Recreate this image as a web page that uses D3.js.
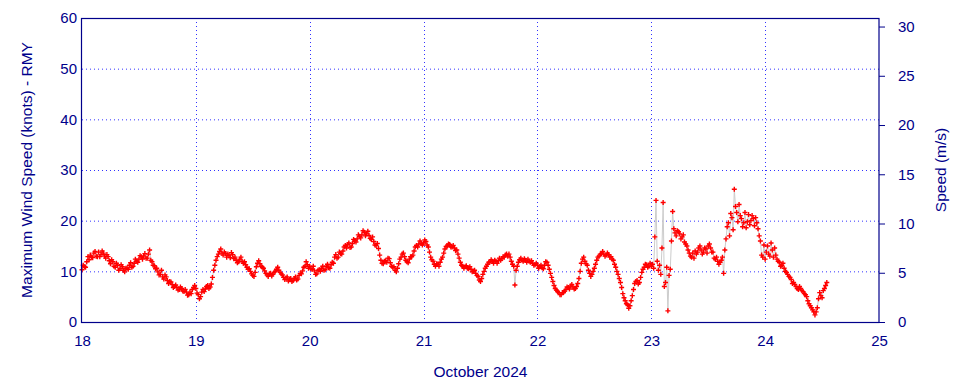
<!DOCTYPE html>
<html>
<head>
<meta charset="utf-8">
<script src="https://cdn.jsdelivr.net/npm/d3@7"></script>
<style>
  body { margin: 0; background: #fff; }
  text { font-family: "Liberation Sans", Arial, sans-serif; }
</style>
</head>
<body>
<script>
// max wind readings (knots): on the hour / half hour ...
const day18 = [10.3,10.9,11.9,12.3,12.8,13.6,13.0,13.8,13.3,13.6,12.6,12.9,11.5,11.9,10.8,11.2,10.5,10.9,9.9,10.6,11.2,10.8,11.6,12.0,
               12.4,12.9,13.0,12.6,13.4,12.2,11.2,10.5,9.9,9.4,8.9,9.3,8.2,8.0,7.4,7.0,6.8,6.4,6.6,6.0,5.9,5.4,5.6,6.8];
const day19 = [6.6,5.4,5.0,6.4,6.5,7.2,6.9,8.8,11.2,12.9,13.9,13.6,13.8,12.8,13.1,13.7,12.5,12.2,11.9,12.8,11.6,11.3,10.4,10.0,
               9.2,9.8,11.6,11.5,10.8,10.1,9.3,9.5,9.1,9.8,10.4,10.2,9.5,8.8,8.7,8.1,8.6,8.2,8.9,8.5,9.6,10.1,11.0,11.3];
const day20 = [11.0,10.4,10.1,9.5,10.3,10.6,10.2,11.0,10.7,11.3,11.6,13.3,12.8,13.5,14.0,15.1,15.3,14.7,15.5,16.1,16.4,16.9,17.2,17.7,
               17.4,17.1,16.3,15.9,15.1,14.5,12.2,11.5,12.1,12.6,11.7,10.8,10.2,10.6,12.4,13.4,12.9,11.9,12.4,12.9,14.0,15.1,15.4,15.5];
const day21 = [15.6,15.9,14.8,12.8,12.0,11.0,11.4,11.8,12.8,14.4,15.0,15.3,14.8,14.6,14.2,12.6,11.2,10.6,11.1,10.5,10.4,10.0,9.6,9.0,
               8.0,9.4,10.6,11.4,11.9,12.0,12.2,11.6,12.6,12.5,12.8,13.4,13.4,12.0,11.0,10.2,11.8,12.6,12.0,12.2,12.4,11.8,11.6,11.3];
const day22 = [11.2,10.9,10.7,11.2,11.8,10.4,8.8,7.2,6.3,5.8,5.4,5.8,6.4,6.8,7.1,6.9,6.6,7.6,10.0,12.4,12.0,11.2,9.6,9.4,
               10.6,12.2,13.0,13.5,13.4,13.2,13.3,12.9,12.2,10.8,9.4,7.8,5.6,4.2,3.4,3.2,5.2,7.6,8.2,7.8,9.8,10.8,11.3,11.0];
const day23 = [11.0,10.6,24.0,10.2,9.4,23.6,7.8,2.2,10.4,21.8,17.6,18.0,17.4,16.8,15.8,15.0,13.6,12.8,12.6,13.4,14.6,14.2,13.8,14.4,
               15.0,14.6,13.8,12.4,12.0,11.8,12.8,14.2,18.8,17.0,20.6,26.2,21.6,23.2,20.4,19.6,18.6,21.2,20.0,20.4,20.6,18.4,16.0,12.8];
const day24 = [12.4,15.0,13.0,14.2,14.6,12.4,11.8,11.2,10.6,9.8,9.0,8.4,7.8,7.0,6.4,6.6,6.0,5.4,4.2,3.2,2.4,1.4,2.8,5.8,4.8,6.6,7.8];

// ... and a quarter past / quarter to
const day18q = [11.2,10.8,12.9,13.2,12.7,13.9,12.9,12.9,14.0,13.0,13.3,12.1,12.3,11.0,11.6,10.2,11.3,10.2,10.6,10.4,11.7,11.0,12.4,11.8,
                13.1,12.4,13.5,12.6,14.2,11.9,11.1,10.6,9.3,10.2,8.5,8.9,7.6,7.9,6.8,7.3,6.3,6.9,6.1,6.4,5.3,5.9,6.4,7.2];
const day19q = [5.7,4.6,5.9,6.0,7.0,6.6,7.5,10.2,12.2,13.4,14.4,13.2,13.5,13.4,12.7,13.3,12.8,11.7,12.4,12.0,11.9,10.8,10.5,9.5,
                9.0,10.9,12.1,11.0,10.6,9.6,9.0,9.6,9.4,10.0,10.8,9.8,9.3,8.4,8.9,8.4,8.0,8.6,8.3,9.2,9.5,10.8,11.9,10.6];
const day20q = [10.5,11.0,9.4,10.2,10.0,11.0,10.3,11.4,10.6,11.8,12.8,12.6,13.8,13.4,14.8,14.6,15.6,14.8,16.3,15.8,17.2,16.6,18.0,17.0,
                17.9,16.5,16.8,15.2,15.5,13.2,11.6,12.0,11.8,12.5,11.0,10.9,9.9,11.5,12.8,13.6,12.2,11.7,12.9,13.2,14.8,14.8,16.0,15.2];
const day21q = [16.2,15.2,13.8,12.3,11.4,11.5,11.0,12.4,13.6,14.9,15.4,14.8,15.1,14.1,13.4,11.8,11.0,10.9,10.6,10.9,9.9,10.2,9.2,8.3,
                8.6,10.0,11.0,11.8,12.3,11.6,12.0,12.1,12.2,12.9,13.2,13.0,12.8,11.4,7.3,11.0,12.3,12.2,12.5,11.8,12.0,12.1,11.2,11.6];
const day22q = [10.6,11.2,10.5,11.9,11.2,9.6,8.0,6.6,6.0,5.4,5.8,6.1,6.9,6.5,7.4,6.5,7.0,8.6,11.6,12.8,11.5,10.2,9.0,10.0,
                11.4,12.8,13.4,13.9,13.0,13.6,12.8,12.4,11.4,10.0,8.6,6.8,4.8,3.6,2.7,4.2,6.4,8.0,7.5,8.8,10.4,11.4,10.8,11.6];
const day23q = [11.4,16.8,12.0,11.2,14.6,7.0,10.8,9.2,16.0,18.4,17.0,17.8,16.4,17.2,15.4,14.2,13.0,13.6,14.0,13.8,15.0,13.4,14.6,13.6,
                15.4,13.8,12.6,12.8,11.4,12.2,9.6,16.4,19.6,21.4,18.2,22.8,19.8,21.0,18.8,21.6,19.8,19.2,21.0,19.0,19.6,17.0,13.2,15.2];
const day24q = [13.8,13.4,15.6,12.8,13.2,12.0,11.0,11.6,10.0,9.4,8.8,7.6,7.4,6.6,7.0,6.2,5.6,5.0,3.6,2.8,2.0,2.0,4.6,5.2,6.2,7.2];

const dayStarts = [18, 19, 20, 21, 22, 23, 24];
const dayValues = [day18, day19, day20, day21, day22, day23, day24];
const dayValuesQ = [day18q, day19q, day20q, day21q, day22q, day23q, day24q];

const knotTicks = [0, 10, 20, 30, 40, 50, 60];
const msTicks = [0, 5, 10, 15, 20, 25, 30];
const KNOT_TO_MS = 0.514444;

const width = 960;
const height = 384;
const margin = {top: 18, right: 81, bottom: 62, left: 82};
const ink = '#00008b';

// flatten into timed readings, 15 min apart
const data = [];
dayValues.forEach((vals, i) => {
  vals.forEach((v, j) => {
    data.push({t: new Date(Date.UTC(2024, 9, dayStarts[i], 0, j * 30)), v: v});
    const q = dayValuesQ[i][j];
    if (q !== undefined) {
      data.push({t: new Date(Date.UTC(2024, 9, dayStarts[i], 0, j * 30 + 15)), v: q});
    }
  });
});

const x = d3.scaleUtc()
  .domain([new Date(Date.UTC(2024, 9, 18)), new Date(Date.UTC(2024, 9, 25))])
  .range([margin.left, width - margin.right]);

const y = d3.scaleLinear()
  .domain([0, 60])
  .range([height - margin.bottom, margin.top]);

const yMs = d3.scaleLinear()
  .domain([0, 60 * KNOT_TO_MS])
  .range([height - margin.bottom, margin.top]);

const svg = d3.select('body')
  .append('svg')
  .attr('width', width)
  .attr('height', height);

// grid
svg.append('g')
  .selectAll('line.h')
  .data(knotTicks.slice(1, -1))
  .enter()
  .append('line')
  .attr('x1', margin.left)
  .attr('x2', width - margin.right)
  .attr('y1', (d) => y(d) + 0.5)
  .attr('y2', (d) => y(d) + 0.5)
  .attr('stroke', '#3333ff')
  .attr('stroke-dasharray', '1,3');

const dayTicks = x.ticks(d3.utcDay.every(1));
svg.append('g')
  .selectAll('line.v')
  .data(dayTicks.slice(1, -1))
  .enter()
  .append('line')
  .attr('x1', (d) => Math.round(x(d)) + 0.5)
  .attr('x2', (d) => Math.round(x(d)) + 0.5)
  .attr('y1', margin.top)
  .attr('y2', height - margin.bottom)
  .attr('stroke', '#3333ff')
  .attr('stroke-dasharray', '1,3');

// connecting line
const line = d3.line()
  .x((d) => x(d.t))
  .y((d) => y(d.v));

svg.append('path')
  .datum(data)
  .attr('d', line)
  .attr('fill', 'none')
  .attr('stroke', '#cccccc')
  .attr('stroke-width', 1);

// plus markers
svg.append('g')
  .selectAll('path.pt')
  .data(data)
  .enter()
  .append('path')
  .attr('d', (d) => {
    const px = x(d.t), py = y(d.v);
    return `M${px - 2.5},${py}H${px + 2.5}M${px},${py - 2.5}V${py + 2.5}`;
  })
  .attr('stroke', '#ff0000')
  .attr('stroke-width', 1.4);

// left axis
const leftAxis = svg.append('g')
  .attr('transform', `translate(${margin.left},0)`)
  .call(d3.axisLeft(y).tickValues(knotTicks).tickSize(0).tickPadding(5));
leftAxis.select('.domain').remove();

// right axis
const rightAxis = svg.append('g')
  .attr('transform', `translate(${width - margin.right},0)`)
  .call(d3.axisRight(yMs).tickValues(msTicks).tickSize(6).tickPadding(13));
rightAxis.select('.domain').remove();
rightAxis.selectAll('line').attr('stroke', ink);

// bottom axis
const bottomAxis = svg.append('g')
  .attr('transform', `translate(0,${height - margin.bottom})`)
  .call(d3.axisBottom(x).ticks(d3.utcDay.every(1)).tickFormat(d3.utcFormat('%-d')).tickSize(0).tickPadding(13));
bottomAxis.select('.domain').remove();

svg.selectAll('.tick text')
  .attr('fill', ink)
  .attr('font-size', 15)
  .attr('font-family', '"Liberation Sans", Arial, sans-serif');

// frame
svg.append('rect')
  .attr('x', margin.left - 0.5)
  .attr('y', margin.top + 0.5)
  .attr('width', width - margin.left - margin.right + 0.5)
  .attr('height', height - margin.top - margin.bottom)
  .attr('fill', 'none')
  .attr('stroke', ink)
  .attr('stroke-width', 1.2);

// titles
svg.append('text')
  .attr('transform', `translate(32,${(margin.top + height - margin.bottom) / 2}) rotate(-90)`)
  .attr('text-anchor', 'middle')
  .attr('fill', ink)
  .attr('font-size', 15.5)
  .text('Maximum Wind Speed (knots) - RMY');

svg.append('text')
  .attr('transform', `translate(946,${(margin.top + height - margin.bottom) / 2}) rotate(-90)`)
  .attr('text-anchor', 'middle')
  .attr('fill', ink)
  .attr('font-size', 15.5)
  .text('Speed (m/s)');

svg.append('text')
  .attr('x', (margin.left + width - margin.right) / 2)
  .attr('y', 377)
  .attr('text-anchor', 'middle')
  .attr('fill', ink)
  .attr('font-size', 15.5)
  .text('October 2024');
</script>
</body>
</html>
